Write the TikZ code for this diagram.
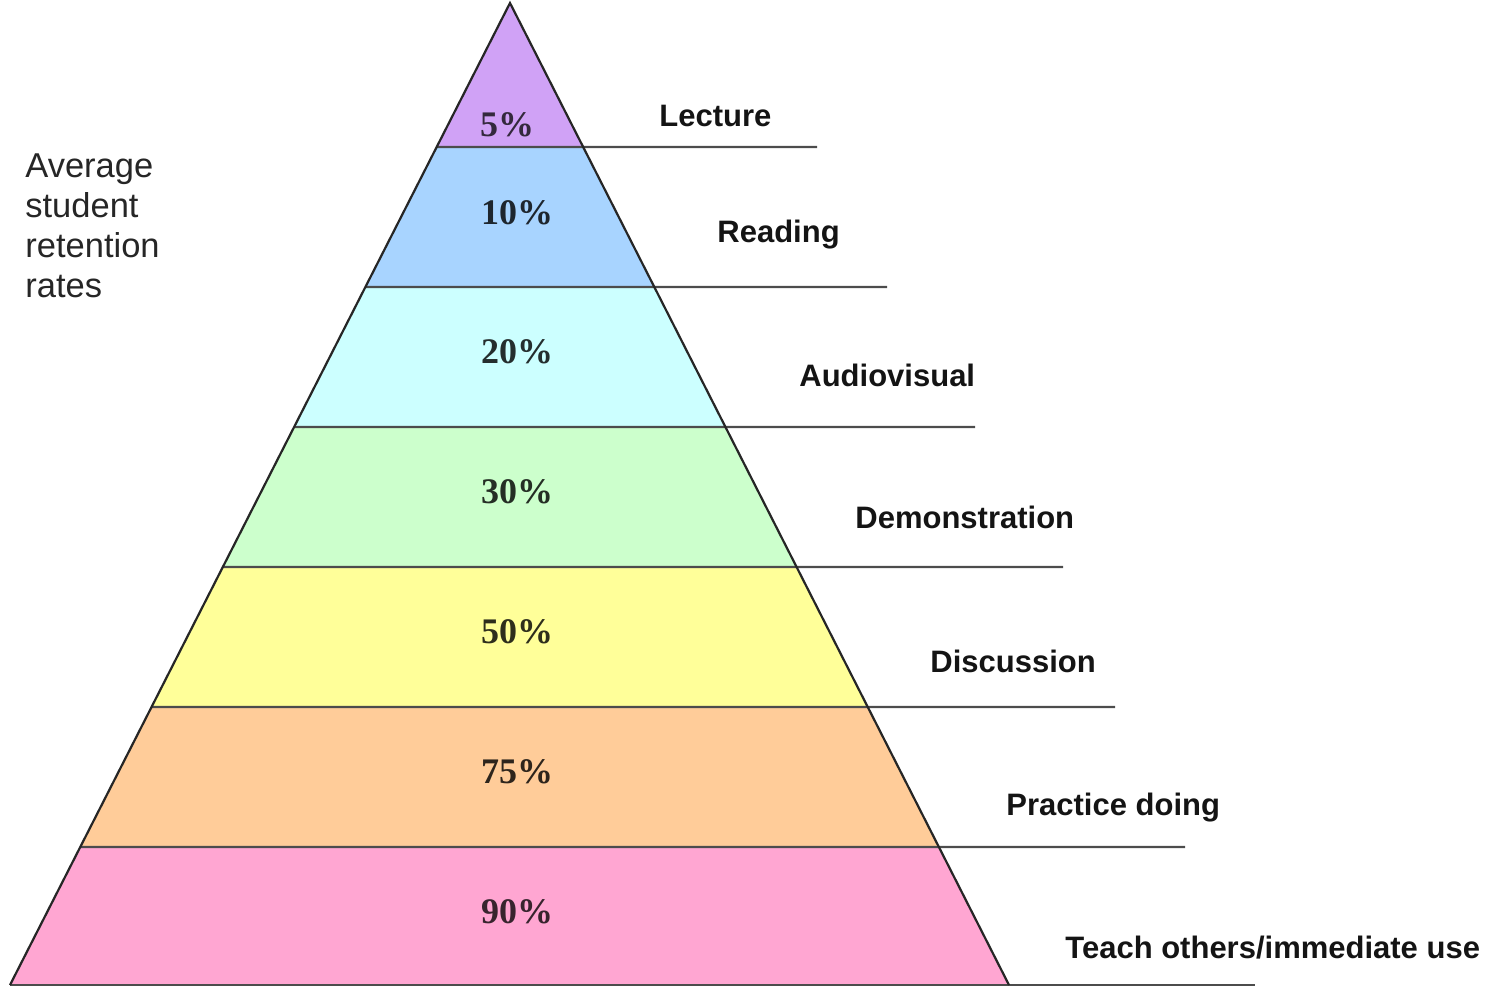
\documentclass[tikz,border=0pt]{standalone}
\usepackage{fontspec}
\setmainfont{Liberation Sans}
\newfontfamily\pctfont{Liberation Serif}
\usetikzlibrary{calc}
\definecolor{cLect}{RGB}{208,162,246}
\definecolor{cRead}{RGB}{168,212,255}
\definecolor{cAudi}{RGB}{204,255,255}
\definecolor{cDemo}{RGB}{204,255,204}
\definecolor{cDisc}{RGB}{255,255,153}
\definecolor{cPrac}{RGB}{255,204,153}
\definecolor{cTeac}{RGB}{255,166,210}
\begin{document}
\begin{tikzpicture}[x=0.5pt,y=-0.5pt,
  pct/.style={font=\pctfont\bfseries\fontsize{18}{20}\selectfont, inner sep=0pt},
  lab/.style={font=\bfseries\fontsize{15.5}{18}\selectfont, anchor=base west, text=black!92, inner sep=0pt},
  side/.style={line width=1.1pt, draw=black!85, line join=miter},
  level/.style={line width=1.1pt, draw=black!70}]
\useasboundingbox (0,0) rectangle (1505,986);
% corners
\coordinate (apex) at (510,3);
\coordinate (l7) at (10,985);  \coordinate (r7) at (1009,985);
\foreach \i/\y in {1/147,2/287,3/427,4/567,5/707,6/847} {
  \coordinate (l\i) at ($(apex)!{(\y-3)/982}!(l7)$);
  \coordinate (r\i) at ($(apex)!{(\y-3)/982}!(r7)$);
}
% line ends
\coordinate (e1) at (817,147);
\coordinate (e2) at (887,287);
\coordinate (e3) at (975,427);
\coordinate (e4) at (1063,567);
\coordinate (e5) at (1115,707);
\coordinate (e6) at (1185,847);
\coordinate (e7) at (1255,985);
% bands
\fill[cLect] (apex) -- (r1) -- (l1) -- cycle;
\fill[cRead] (l1) -- (r1) -- (r2) -- (l2) -- cycle;
\fill[cAudi] (l2) -- (r2) -- (r3) -- (l3) -- cycle;
\fill[cDemo] (l3) -- (r3) -- (r4) -- (l4) -- cycle;
\fill[cDisc] (l4) -- (r4) -- (r5) -- (l5) -- cycle;
\fill[cPrac] (l5) -- (r5) -- (r6) -- (l6) -- cycle;
\fill[cTeac] (l6) -- (r6) -- (r7) -- (l7) -- cycle;
% level lines
\foreach \i in {1,...,7} { \draw[level] (l\i) -- (e\i); }
% sides
\draw[side] (l7) -- (apex) -- (r7);
% percentages
\node[pct, text=cLect!25!black] (p1) at (507,125) {5\%};
\node[pct, text=cRead!18!black] (p2) at (517,213) {10\%};
\node[pct, text=cAudi!18!black] (p3) at (517,352) {20\%};
\node[pct, text=cDemo!18!black] (p4) at (517,492) {30\%};
\node[pct, text=cDisc!18!black] (p5) at (517,632) {50\%};
\node[pct, text=cPrac!18!black] (p6) at (517,772) {75\%};
\node[pct, text=cTeac!22!black] (p7) at (517,912) {90\%};
% labels
\node[lab] (t1) at (659,126) {Lecture};
\node[lab] (t2) at (717,242) {Reading};
\node[lab] (t3) at (799,386) {Audiovisual};
\node[lab] (t4) at (855,528) {Demonstration};
\node[lab] (t5) at (930,672) {Discussion};
\node[lab] (t6) at (1006,815) {Practice doing};
\node[lab] (t7) at (1065,958) {Teach others/immediate use};
% left title
\node[anchor=north west, align=left, inner sep=0pt, text=black!85,
      font=\fontsize{17.25}{20}\selectfont] (title) at (25,153)
  {Average\\student\\retention\\rates};
\end{tikzpicture}
\end{document}
